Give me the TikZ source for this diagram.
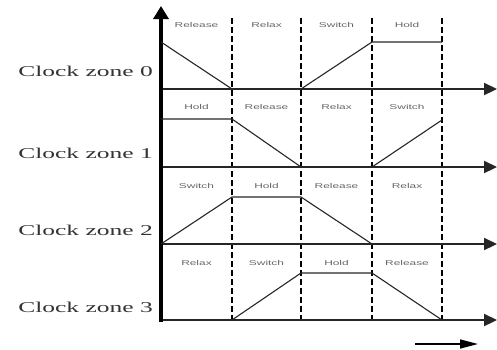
\documentclass[tikz,border=0pt]{standalone}
\usepackage{fontspec}
\usetikzlibrary{arrows.meta}
\newfontfamily\zonefont[FakeStretch=1.7]{Liberation Serif}
\newfontfamily\phasefont[FakeStretch=1.7]{Liberation Sans}
\tikzset{
  axis/.style={line width=3.6pt,-{Triangle[length=13pt,width=15pt]}},
  base/.style={line width=2.2pt,black!85,-{Triangle[length=13pt,width=12pt]}},
  timeax/.style={line width=1.6pt,-{Triangle[length=18pt,width=9pt]}},
  bound/.style={line width=2.2pt,dash pattern=on 6pt off 3pt},
  wave/.style={line width=1.1pt,black!85},
  phase/.style={font=\phasefont\fontsize{7}{8}\selectfont,text=black!60,inner sep=0pt},
  zone/.style={font=\zonefont\fontsize{15}{17}\selectfont,text=black!80,anchor=east,inner sep=0pt}
}

\begin{document}
\begin{tikzpicture}[x=1pt,y=-1pt]
\useasboundingbox (0,0) rectangle (497,349);
\coordinate (O) at (161,322);
\coordinate (T) at (161,6);
\foreach \x in {232,301,372,442}
  \draw[bound] (\x,18) -- (\x,322);
\foreach \i/\y/\ly in {0/89/71,1/167/153,2/244/230,3/320/307} {
  \coordinate (b\i) at (161,\y);
  \coordinate (e\i) at (497,\y);
  \draw[base] (b\i) -- (e\i);
  \node[zone] (z\i) at (153,\ly) {Clock zone \i};
}
\draw[axis] (O) -- (T);
\foreach \i/\y/\pa/\pb/\pc/\pd in {0/25/Release/Relax/Switch/Hold,
    1/107/Hold/Release/Relax/Switch,
    2/186/Switch/Hold/Release/Relax,
    3/263/Relax/Switch/Hold/Release} {
  \node[phase] (p\i a) at (196.5,\y) {\pa};
  \node[phase] (p\i b) at (266.5,\y) {\pb};
  \node[phase] (p\i c) at (336.5,\y) {\pc};
  \node[phase] (p\i d) at (407,\y) {\pd};
}
\draw[wave] (161,42) -- (232,89) (301,89) -- (372,42) -- (442,42);
\draw[wave] (161,119) -- (232,119) -- (301,167) (372,167) -- (442,120);
\draw[wave] (161,244) -- (232,197) -- (301,197) -- (372,244);
\draw[wave] (232,320) -- (301,273) -- (372,273) -- (442,320);
\coordinate (t0) at (415,344);
\coordinate (t1) at (478,344);
\draw[timeax] (t0) -- (t1);
\end{tikzpicture}
\end{document}
